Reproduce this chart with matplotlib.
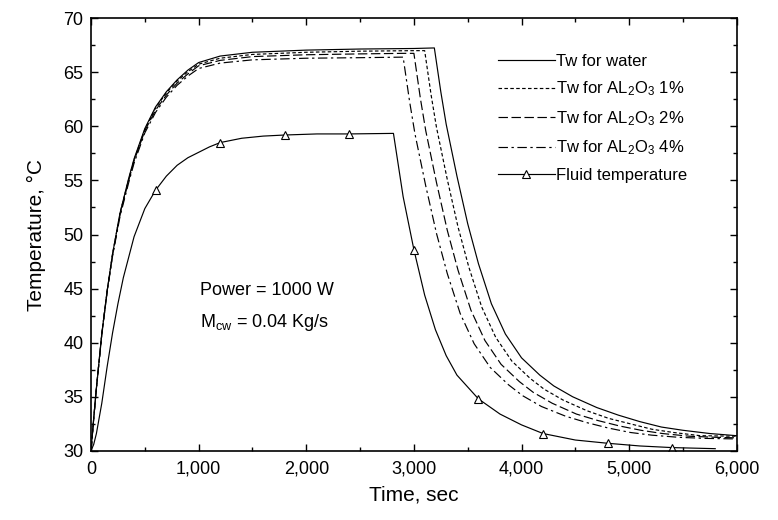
import matplotlib
matplotlib.use("Agg")
import matplotlib.pyplot as plt
from matplotlib.ticker import MultipleLocator, FuncFormatter

plt.rcParams['font.family'] = ['Liberation Sans', 'DejaVu Sans']
plt.rcParams['mathtext.fontset'] = 'custom'
plt.rcParams['mathtext.rm'] = 'Liberation Sans'
plt.rcParams['mathtext.it'] = 'Liberation Sans'

# wall temperature, water
water_t = [0, 25, 50, 100, 150, 200, 270, 350, 400, 500, 600, 700, 800, 900, 1000, 1200, 1500, 2000, 2500, 3000, 3190,
           3250, 3300, 3400, 3500, 3600, 3720, 3850, 4000, 4170, 4300, 4475, 4700, 4900, 5100, 5300, 5500, 5750, 6000]
water_T = [30, 33.0, 35.8, 40.8, 44.8, 48.2, 52.0, 55.2, 57.0, 59.8, 61.8, 63.2, 64.3, 65.2, 65.9, 66.5, 66.85, 67.05, 67.15, 67.2, 67.25,
           63.2, 60.2, 55.4, 51.0, 47.3, 43.6, 40.8, 38.6, 37.0, 36.0, 35.0, 34.0, 33.3, 32.7, 32.2, 31.9, 31.6, 31.4]

# wall temperature, Al2O3 1%
al1_t = [0, 25, 50, 100, 150, 200, 270, 350, 400, 500, 600, 700, 800, 900, 1000, 1200, 1500, 2000, 2500, 3000, 3100,
         3160, 3210, 3310, 3410, 3510, 3630, 3760, 3910, 4080, 4210, 4385, 4610, 4810, 5010, 5210, 5410, 5660, 6000]
al1_T = [30, 33.0, 35.8, 40.8, 44.8, 48.2, 52.0, 55.1, 56.9, 59.7, 61.7, 63.1, 64.2, 65.05, 65.75, 66.3, 66.65, 66.85, 66.95, 67.0, 67.0,
         62.9, 59.9, 55.1, 50.7, 47.0, 43.3, 40.5, 38.3, 36.7, 35.7, 34.7, 33.7, 33.0, 32.5, 32.0, 31.7, 31.4, 31.35]

# wall temperature, Al2O3 2%
al2_t = [0, 25, 50, 100, 150, 200, 270, 350, 400, 500, 600, 700, 800, 900, 1000, 1200, 1500, 2000, 2500, 2900, 3000,
         3060, 3110, 3210, 3310, 3410, 3530, 3660, 3810, 3980, 4110, 4285, 4510, 4710, 4910, 5110, 5310, 5560, 5810, 6000]
al2_T = [30, 33.0, 35.8, 40.8, 44.8, 48.1, 51.9, 55.0, 56.8, 59.6, 61.5, 62.9, 64.0, 64.85, 65.6, 66.1, 66.45, 66.62, 66.7, 66.75, 66.75,
         62.6, 59.6, 54.8, 50.4, 46.7, 43.0, 40.2, 38.0, 36.4, 35.4, 34.4, 33.4, 32.8, 32.3, 31.9, 31.6, 31.35, 31.25, 31.2]

# wall temperature, Al2O3 4%
al4_t = [0, 25, 50, 100, 150, 200, 270, 350, 400, 500, 600, 700, 800, 900, 1000, 1200, 1500, 2000, 2500, 2900,
         2960, 3010, 3110, 3210, 3310, 3430, 3560, 3710, 3880, 4010, 4185, 4410, 4610, 4810, 5010, 5210, 5460, 5710, 6000]
al4_T = [30, 33.0, 35.8, 40.7, 44.7, 48.0, 51.7, 54.8, 56.6, 59.4, 61.3, 62.7, 63.8, 64.65, 65.35, 65.85, 66.15, 66.3, 66.35, 66.4,
         62.3, 59.3, 54.5, 50.1, 46.4, 42.7, 39.9, 37.7, 36.1, 35.1, 34.1, 33.2, 32.6, 32.1, 31.7, 31.45, 31.25, 31.15, 31.1]

# fluid temperature
fluid_t = [0, 25, 50, 100, 150, 200, 250, 300, 400, 500, 600, 700, 800, 900, 1000, 1100, 1200, 1400, 1600, 1800, 2100, 2400, 2810,
           2900, 3000, 3100, 3200, 3300, 3400, 3600, 3800, 4000, 4200, 4500, 4800, 5100, 5400, 5800]
fluid_T = [30, 30.6, 31.6, 34.4, 37.8, 40.9, 43.6, 46.0, 49.8, 52.4, 54.1, 55.4, 56.4, 57.1, 57.6, 58.1, 58.5, 58.9, 59.1, 59.2, 59.3, 59.3, 59.35,
           53.5, 48.6, 44.4, 41.2, 38.8, 37.0, 34.8, 33.4, 32.4, 31.6, 31.0, 30.7, 30.45, 30.3, 30.2]

fig = plt.figure(figsize=(7.78, 5.2), dpi=100)
ax = fig.add_axes([0.117, 0.133, 0.830, 0.832])

lw = 0.85
ax.plot(water_t, water_T, color='black', lw=lw, label='Tw for water')
ax.plot(al1_t, al1_T, color='black', lw=lw, linestyle=(0, (3, 2)), label='Tw for AL$_2$O$_3$ 1%')
ax.plot(al2_t, al2_T, color='black', lw=lw, linestyle=(0, (8, 3)), label='Tw for AL$_2$O$_3$ 2%')
ax.plot(al4_t, al4_T, color='black', lw=lw, linestyle=(0, (8, 3, 2, 3)), label='Tw for AL$_2$O$_3$ 4%')
marks = [i for i, t in enumerate(fluid_t) if t > 0 and t % 600 == 0]
ax.plot(fluid_t, fluid_T, color='black', lw=lw, marker='^', markevery=marks, markersize=6,
        markerfacecolor='white', markeredgecolor='black', markeredgewidth=0.8, label='Fluid temperature')

ax.set_xlim(0, 6000)
ax.set_ylim(30, 70)
ax.xaxis.set_major_locator(MultipleLocator(1000))
ax.xaxis.set_minor_locator(MultipleLocator(500))
ax.yaxis.set_major_locator(MultipleLocator(5))
ax.yaxis.set_minor_locator(MultipleLocator(2.5))
ax.xaxis.set_major_formatter(FuncFormatter(lambda v, p: f'{v:,.0f}'))
ax.tick_params(which='both', direction='in', top=True, right=True, labelsize=13, width=1.0)
ax.tick_params(which='major', length=5)
ax.tick_params(which='minor', length=3)
ax.tick_params(axis='x', pad=7)
ax.tick_params(axis='y', pad=5.5)
for s in ax.spines.values():
    s.set_linewidth(1.2)

ax.set_xlabel('Time, sec', fontsize=15, labelpad=6)
ax.set_ylabel('Temperature, °C', fontsize=15, labelpad=12)

ax.text(1012, 44.8, 'Power = 1000 W', fontsize=13, ha='left', va='center')
ax.text(1012, 41.9, 'M$_{\\mathrm{cw}}$ = 0.04 Kg/s', fontsize=13, ha='left', va='center')

ax.legend(loc='upper left', bbox_to_anchor=(0.63, 0.918), frameon=False, fontsize=12,
          handlelength=3.4, handletextpad=0.1, labelspacing=0.65, borderpad=0, borderaxespad=0)

fig.savefig('out.png', dpi=100)
